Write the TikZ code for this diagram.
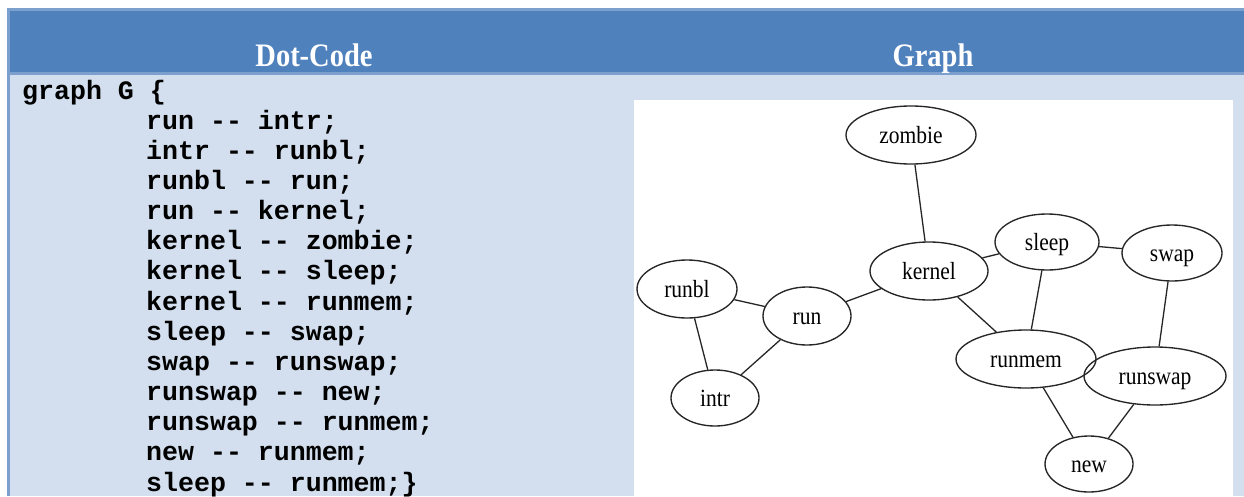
\documentclass[tikz,border=0pt]{standalone}
\usepackage{graphicx}
\usepackage{fontspec}
\setmainfont{Liberation Serif}
\setmonofont{Liberation Mono}
\usetikzlibrary{shapes.geometric}

\definecolor{hdrblue}{RGB}{79,129,189}
\definecolor{rimblue}{RGB}{123,160,205}
\definecolor{cellblue}{RGB}{211,223,238}

% tall, narrow lettering used in the header and the graph labels
\newcommand{\tallA}[1]{\scalebox{1}[1.15]{#1}}
\newcommand{\dsh}{-{}-}

\begin{document}
\begin{tikzpicture}[x=1pt,y=-1pt,
  headtext/.style={anchor=base, text=white, inner sep=0pt,
    font=\fontsize{28.5}{28.5}\selectfont\bfseries},
  codeline/.style={anchor=base west, inner sep=0pt,
    font=\fontsize{26.6}{26.6}\selectfont\ttfamily\bfseries},
  vtx/.style={ellipse, draw=black!85, line width=1.35pt, inner sep=0pt,
    text height=20pt, text depth=4pt,
    font=\fontsize{21.5}{21.5}\selectfont},
  link/.style={draw=black!85, line width=1.3pt}]
\useasboundingbox (0,0) rectangle (1244,496);

% table background, header band and left rim
\fill[white] (0,0) rectangle (1244,496);
\fill[cellblue] (6.7,8) rectangle (1244,496);
\fill[rimblue] (6.7,8) rectangle (1244,75);
\fill[hdrblue] (10,11) rectangle (1244,72);
\fill[rimblue] (6.7,8) rectangle (10,496);

% header titles
\node[headtext] (hcode) at (314,66) {\tallA{Dot-Code}};
\node[headtext] (hgraph) at (933,66) {\tallA{Graph}};

% dot source
\node[codeline] (c1)  at (22,99)     {graph G \{};
\node[codeline] (c2)  at (146,129.2) {run \dsh{} intr;};
\node[codeline] (c3)  at (146,159.3) {intr \dsh{} runbl;};
\node[codeline] (c4)  at (146,189.5) {runbl \dsh{} run;};
\node[codeline] (c5)  at (146,219.6) {run \dsh{} kernel;};
\node[codeline] (c6)  at (146,249.8) {kernel \dsh{} zombie;};
\node[codeline] (c7)  at (146,279.9) {kernel \dsh{} sleep;};
\node[codeline] (c8)  at (146,310.1) {kernel \dsh{} runmem;};
\node[codeline] (c9)  at (146,340.2) {sleep \dsh{} swap;};
\node[codeline] (c10) at (146,370.4) {swap \dsh{} runswap;};
\node[codeline] (c11) at (146,400.5) {runswap \dsh{} new;};
\node[codeline] (c12) at (146,430.7) {runswap \dsh{} runmem;};
\node[codeline] (c13) at (146,460.8) {new \dsh{} runmem;};
\node[codeline] (c14) at (146,491)   {sleep \dsh{} runmem;\}};

% rendered graph on its white canvas
\fill[white] (634,100) rectangle (1233,496);

\node[vtx, minimum width=130, minimum height=58] (zombie)  at (911,135)  {\tallA{zombie}};
\node[vtx, minimum width=118, minimum height=58] (kernel)  at (929,271)  {\tallA{kernel}};
\node[vtx, minimum width=104, minimum height=56] (sleep)   at (1047,242) {\tallA{sleep}};
\node[vtx, minimum width=100, minimum height=56] (swap)    at (1172,253) {\tallA{swap}};
\node[vtx, minimum width=100, minimum height=58] (runbl)   at (687,289)  {\tallA{runbl}};
\node[vtx, minimum width=88,  minimum height=58] (run)     at (807,316)  {\tallA{run}};
\node[vtx, minimum width=88,  minimum height=56] (intr)    at (715,398)  {\tallA{intr}};
\node[vtx, minimum width=140, minimum height=58] (runmem)  at (1026,359) {\tallA{runmem}};
\node[vtx, minimum width=142, minimum height=58] (runswap) at (1155,376) {\tallA{runswap}};
\node[vtx, minimum width=88,  minimum height=56] (new)     at (1089,464) {\tallA{new}};

\draw[link] (run) -- (intr);
\draw[link] (intr) -- (runbl);
\draw[link] (runbl) -- (run);
\draw[link] (run) -- (kernel);
\draw[link] (kernel) -- (zombie);
\draw[link] (kernel) -- (sleep);
\draw[link] (kernel) -- (runmem);
\draw[link] (sleep) -- (swap);
\draw[link] (swap) -- (runswap);
\draw[link] (runswap) -- (new);
\draw[link] (new) -- (runmem);
\draw[link] (sleep) -- (runmem);
\end{tikzpicture}
\end{document}
